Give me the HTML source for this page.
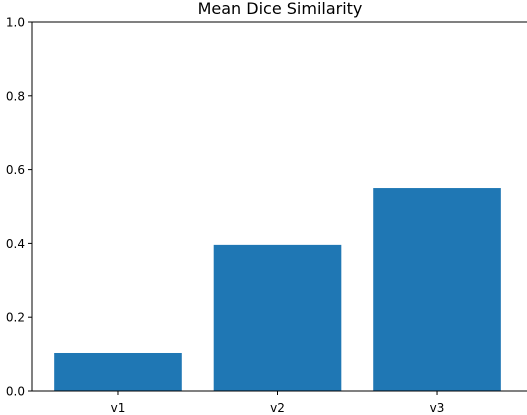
<!DOCTYPE html>
<html><head><meta charset="utf-8"><style>
html,body{margin:0;padding:0;background:#fff;width:527px;height:415px;overflow:hidden}
svg{display:block;font-family:"DejaVu Sans","Liberation Sans",sans-serif}
</style></head><body>
<svg id="chart" width="527" height="415" viewBox="0 0 527 415" xmlns="http://www.w3.org/2000/svg">
<text x="280" y="14" font-size="16" text-anchor="middle">Mean Dice Similarity</text>
<g id="bars"></g>
<g id="axes"></g>
</svg>
<script>
const categories = ["v1", "v2", "v3"];
const values = [0.103, 0.396, 0.55];
const yTicks = [0.0, 0.2, 0.4, 0.6, 0.8, 1.0];
const yTickLabels = ["0.0", "0.2", "0.4", "0.6", "0.8", "1.0"];

const L = 32, R = 527, T = 22, B = 391;
const xMin = -0.539, xMax = 2.564;
function xs(v){ return L + (v - xMin) / (xMax - xMin) * (R - L); }
function ys(v){ return B - v * (B - T); }
const NS = "http://www.w3.org/2000/svg";
function mk(tag, attrs, parent){ const e = document.createElementNS(NS, tag); for (const k in attrs) e.setAttribute(k, attrs[k]); parent.appendChild(e); return e; }
const bars = document.getElementById('bars');
const axes = document.getElementById('axes');
categories.forEach((c, i) => {
  const x0 = xs(i - 0.4), x1 = xs(i + 0.4);
  const r = mk('rect', {x: x0, y: ys(values[i]), width: x1 - x0, height: ys(0) - ys(values[i]), fill: '#1f77b4'}, bars);
  
  
  const t = mk('line', {x1: xs(i), x2: xs(i), y1: B, y2: B + 4, stroke: '#000', 'stroke-width': 1}, axes);
  
  
  const lb = mk('text', {x: xs(i), y: B + 21, 'font-size': 12, 'text-anchor': 'middle'}, axes);
  lb.textContent = c;
  
  
});
yTicks.forEach((v, i) => {
  const t = mk('line', {x1: L - 4, x2: L, y1: ys(v), y2: ys(v), stroke: '#000', 'stroke-width': 1}, axes);
  
  
  const lb = mk('text', {x: L - 7, y: ys(v) + 4.5, 'font-size': 12, 'text-anchor': 'end'}, axes);
  lb.textContent = yTickLabels[i];
  
  
});
const sl = mk('line', {x1: L, x2: L, y1: T, y2: B, stroke: '#000', 'stroke-width': 1}, axes);


const sb = mk('line', {x1: L, x2: R, y1: B, y2: B, stroke: '#000', 'stroke-width': 1}, axes);


const st = mk('line', {x1: L, x2: R, y1: T, y2: T, stroke: '#000', 'stroke-width': 1}, axes);


</script>
</body></html>
